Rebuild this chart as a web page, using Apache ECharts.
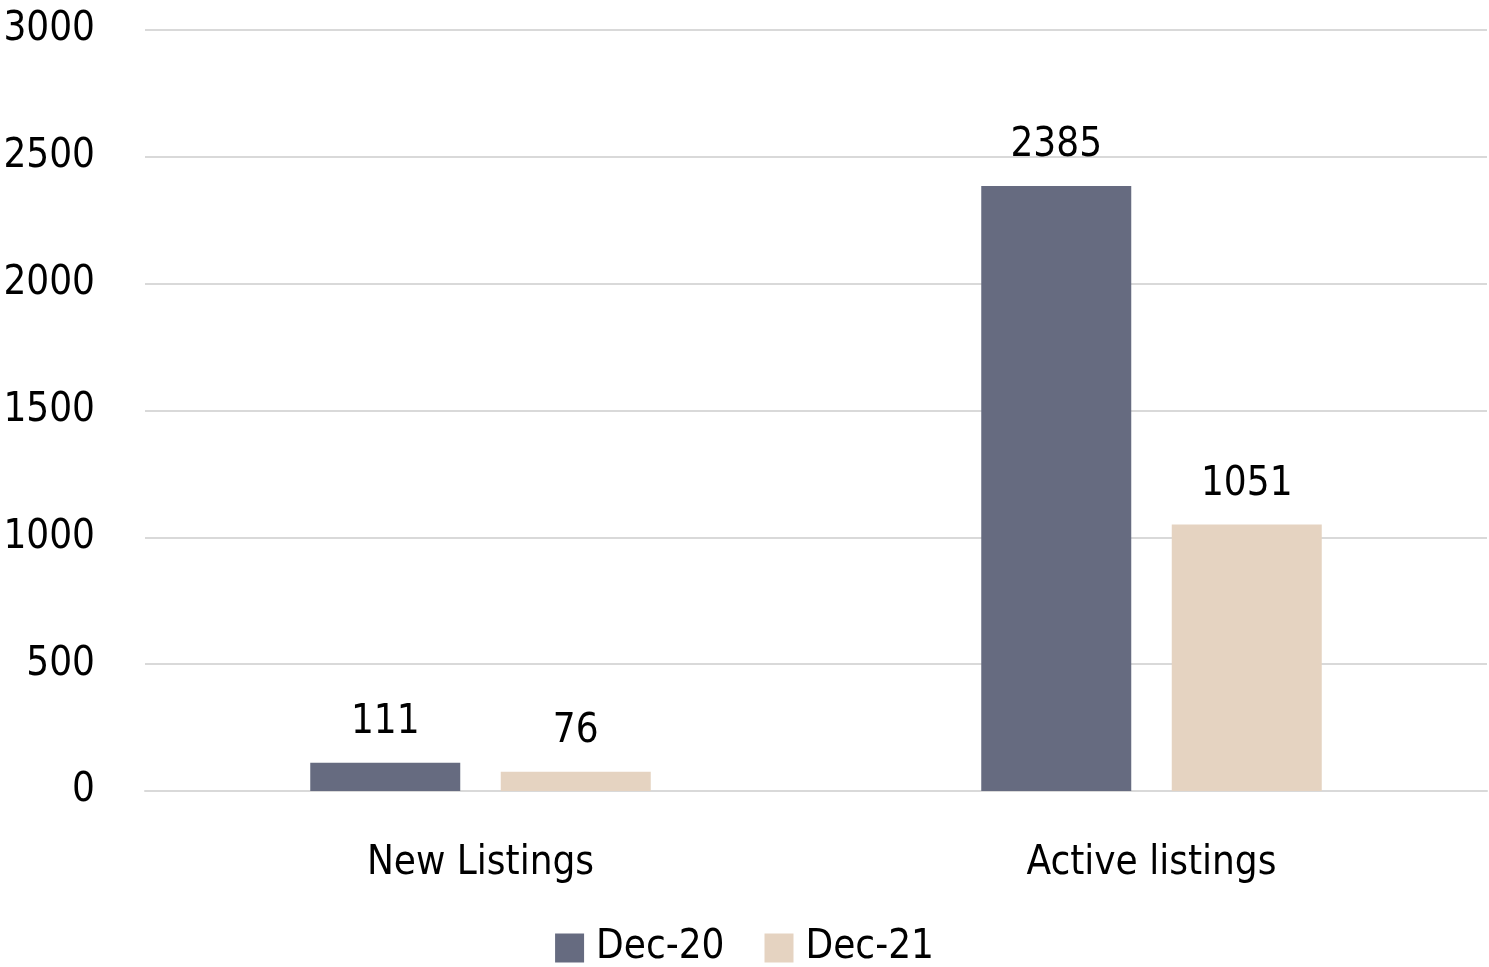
<!DOCTYPE html>
<html>
<head>
<meta charset="utf-8">
<script src="https://cdn.jsdelivr.net/npm/echarts@6/dist/echarts.min.js"></script>
<style>
  html, body { margin: 0; padding: 0; background: #fff; }
  #chart { width: 1489px; height: 967px; }
</style>
</head>
<body>
<div id="chart"></div>
<script>
const categories = ['New Listings', 'Active listings']
const seriesNames = ['Dec-20', 'Dec-21']
const dec20 = [111, 2385]
const dec21 = [76, 1051]

const font = '"DejaVu Sans Condensed", "Liberation Sans Narrow", sans-serif'
const size = 40
const chart = echarts.init(document.getElementById('chart'))

chart.setOption({
  animation: false,
  textStyle: { fontFamily: font, color: '#000' },
  grid: { left: 145, right: 2, top: 30, bottom: 176, outerBoundsMode: 'none', containLabel: false },
  legend: {
    bottom: -6,
    left: 'center',
    itemWidth: 29,
    itemHeight: 29,
    itemGap: 40,
    icon: 'rect',
    textStyle: { fontFamily: font, fontSize: size, color: '#000', padding: [0, 0, 0, 7] },
    data: seriesNames,
  },
  xAxis: {
    type: 'category',
    data: categories,
    axisLine: { lineStyle: { color: '#d9d9d9', width: 2 } },
    axisTick: { show: false },
    axisLabel: { fontFamily: font, fontSize: size, color: '#000', margin: 53 },
  },
  yAxis: {
    type: 'value',
    min: 0,
    max: 3000,
    interval: 500,
    axisLine: { show: false },
    axisTick: { show: false },
    axisLabel: { fontFamily: font, fontSize: size, color: '#000', margin: 50, formatter: (v) => String(v) },
    splitLine: { lineStyle: { color: '#d9d9d9', width: 2 } },
  },
  series: [
    {
      name: seriesNames[0],
      type: 'bar',
      data: dec20,
      barWidth: 150,
      barGap: '27%',
      itemStyle: { color: '#666b80' },
      label: { show: true, position: 'top', distance: 20, fontFamily: font, fontSize: size, color: '#000' },
    },
    {
      name: seriesNames[1],
      type: 'bar',
      data: dec21,
      barWidth: 150,
      itemStyle: { color: '#e5d3c1' },
      label: { show: true, position: 'top', distance: 20, fontFamily: font, fontSize: size, color: '#000' },
    },
  ],
})
</script>
</body>
</html>
